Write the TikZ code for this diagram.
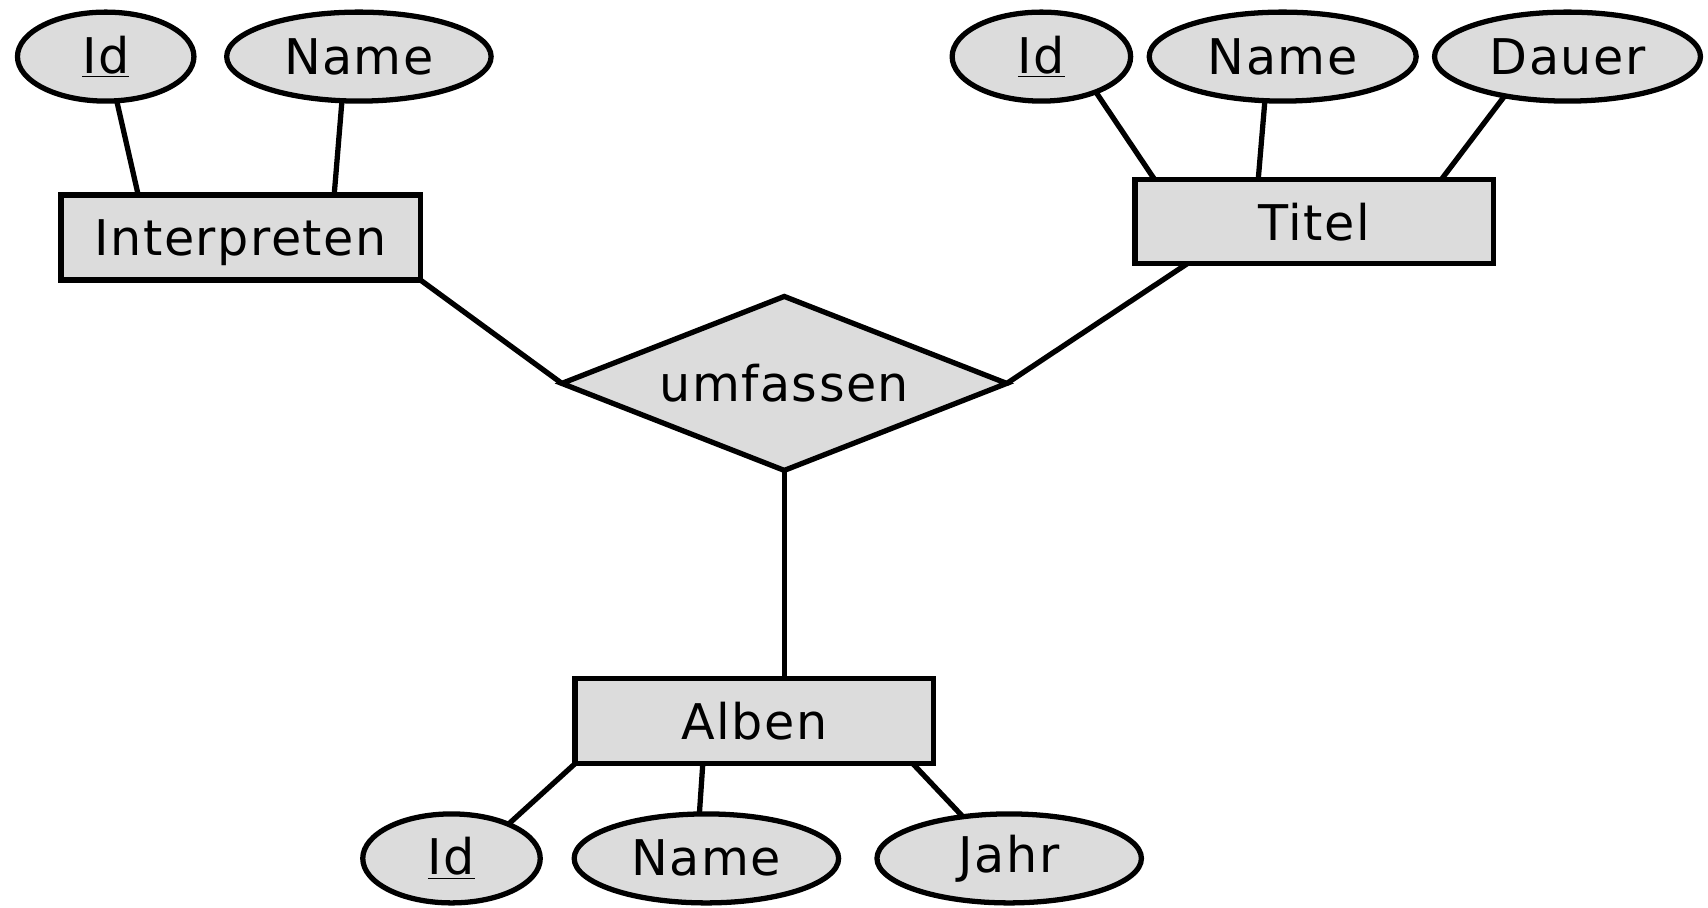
\documentclass[tikz,border=0pt]{standalone}
\usepackage{fontspec}
\setmainfont[LetterSpace=3]{DejaVu Sans}
\usetikzlibrary{shapes.geometric,calc}

\definecolor{erfill}{RGB}{220,220,220}

\tikzset{
    every node/.style={font=\fontsize{28}{32}\selectfont, inner sep=0pt, outer sep=0pt},
    entity/.style={draw, fill=erfill, rectangle, minimum height=1.7cm, text depth=0pt},
    attrib/.style={draw, fill=erfill, ellipse, minimum height=1.78cm},
    relship/.style={draw, fill=erfill, diamond, aspect=2.57,
        minimum width=8.9cm, minimum height=3.48cm},
}

\begin{document}
\begin{tikzpicture}[x=0.02cm, y=-0.02cm, line width=3pt]
    \useasboundingbox (0,0) rectangle (1708,907);

    % Interpreten
    \node[entity, minimum width=7.19cm] (interp) at (240.7,237.5) {Interpreten};
    \node[attrib, minimum width=3.53cm] (interpId) at (105.7,56.6) {\underline{Id}};
    \node[attrib, minimum width=5.29cm] (interpName) at (358.9,56.6) {Name};

    % Titel
    \node[entity, minimum width=7.17cm, minimum height=1.68cm] (titel) at (1314.2,221.7) {Titel};
    \node[attrib, minimum width=3.57cm] (titelId) at (1041.4,56.6) {\underline{Id}};
    \node[attrib, minimum width=5.34cm] (titelName) at (1282.7,56.6) {Name};
    \node[attrib, minimum width=5.32cm] (dauer) at (1567.5,56.6) {Dauer};

    % Beziehung
    \node[relship] (umfassen) at (784.3,383.4) {umfassen};

    % Alben
    \node[entity, minimum width=7.17cm] (alben) at (754.3,721.1) {Alben};
    \node[attrib, minimum width=3.55cm] (albenId) at (451.5,858.4) {\underline{Id}};
    \node[attrib, minimum width=5.29cm] (albenName) at (706.4,858.4) {Name};
    \node[attrib, minimum width=5.29cm] (jahr) at (1009.2,858.4) {Jahr};

    % Verbindungen
    \draw (interpId.-76) -- ($(interp.north)+(-2.05cm,0)$);
    \draw (interpName.-111) -- ($(interp.north)+(1.87cm,0)$);
    \draw (interp.south east) -- (umfassen.west);

    \draw (titelId.-33) -- ($(titel.north)+(-3.19cm,0)$);
    \draw (titelName.-112) -- ($(titel.north)+(-1.12cm,0)$);
    \draw (dauer.-148) -- ($(titel.north)+(2.54cm,0)$);
    \draw ($(titel.south)+(-2.54cm,0)$) -- (umfassen.east);

    \draw (umfassen.south) -- (umfassen.south |- alben.north);
    \draw (alben.south west) -- (albenId.31);
    \draw ($(alben.south)+(-1.03cm,0)$) -- (albenName.99);
    \draw ($(alben.south)+(3.17cm,0)$) -- (jahr.138);
\end{tikzpicture}
\end{document}
